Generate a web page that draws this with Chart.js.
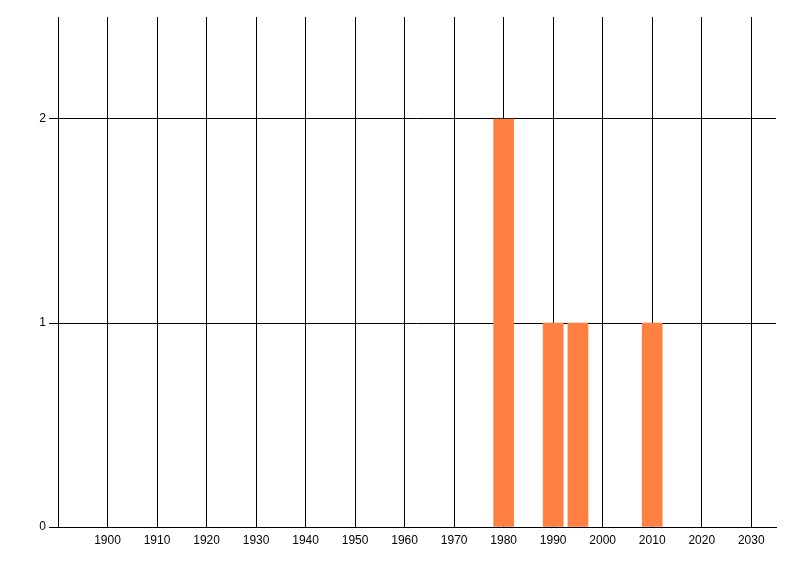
<!DOCTYPE html>
<html>
<head>
    <meta charset="UTF-8">
    <title>Chart</title>
    <script src="https://cdn.jsdelivr.net/npm/chart.js"></script>
    <style>
        body { margin: 0; background: white; }
        #wrap { width: 800px; height: 576px; }
    </style>
</head>
<body>
    <div id="wrap"><canvas id="chart" width="800" height="576"></canvas></div>
    <script>
        // values
        const years = [1980, 1990, 1995, 2010];
        const counts = [2, 1, 1, 1];
        const xMin = 1890, xMax = 2035, xStep = 10;
        const yMin = 0, yMax = 2.5, yStep = 1;

        const points = years.map((y, i) => ({ x: y, y: counts[i] }));

        Chart.defaults.font.family = '"Liberation Sans", Arial, sans-serif';
        Chart.defaults.font.size = 12;
        Chart.defaults.color = '#000';

        new Chart(document.getElementById('chart').getContext('2d'), {
            type: 'bar',
            data: {
                datasets: [{
                    data: points,
                    backgroundColor: 'rgb(255,128,64)',
                    borderWidth: 0,
                    barThickness: 20
                }]
            },
            options: {
                responsive: false,
                animation: false,
                layout: { padding: { top: 17, right: 24, left: 0, bottom: 0 } },
                plugins: { legend: { display: false }, tooltip: { enabled: false } },
                scales: {
                    x: {
                        type: 'linear',
                        min: xMin,
                        max: xMax,
                        offset: false,
                        afterFit: s => { s.height = 576 - 527; },
                        ticks: {
                            stepSize: xStep,
                            includeBounds: false,
                            maxRotation: 0,
                            autoSkip: false,
                            padding: 6,
                            callback: v => v === xMin ? '' : String(v)
                        },
                        grid: { color: '#000', lineWidth: 1, drawTicks: false, offset: false },
                        border: { color: '#000', width: 1 }
                    },
                    y: {
                        min: yMin,
                        max: yMax,
                        afterFit: s => { s.width = 58; },
                        ticks: { stepSize: yStep, includeBounds: false, padding: 3 },
                        grid: { color: '#000', lineWidth: 1, tickLength: 9 },
                        border: { color: '#000', width: 1 }
                    }
                }
            }
        });
    </script>
</body>
</html>
